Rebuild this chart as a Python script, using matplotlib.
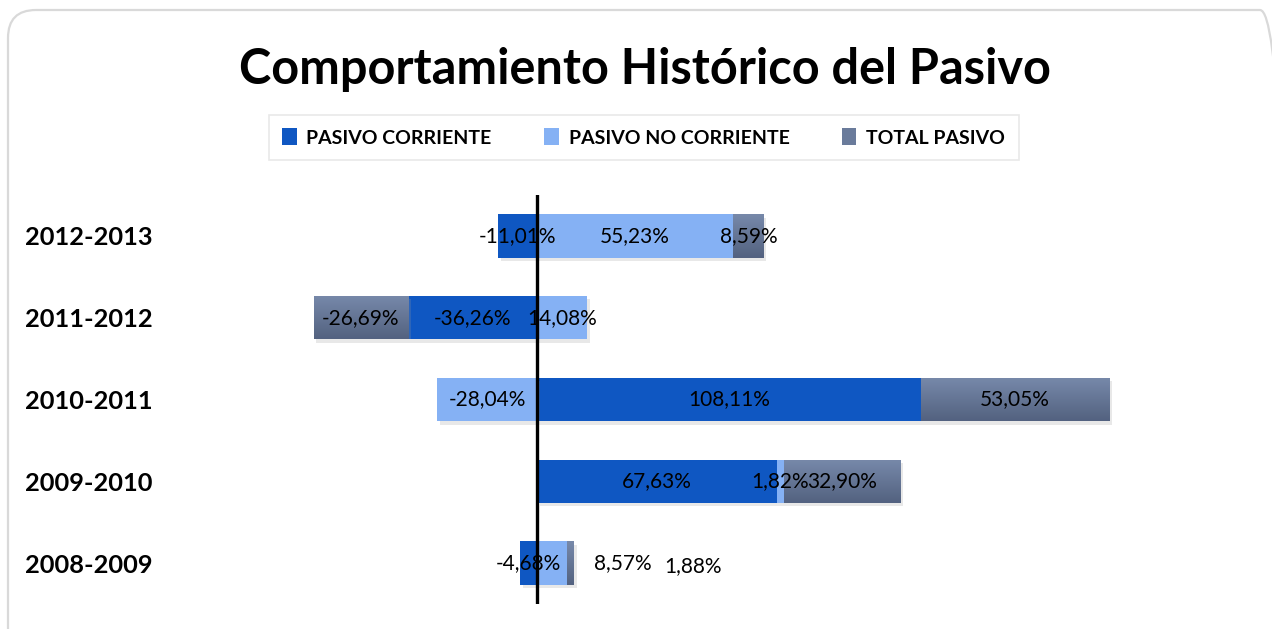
import numpy as np
import matplotlib
matplotlib.use("Agg")
import matplotlib.pyplot as plt
from matplotlib.patches import FancyBboxPatch, Patch
from matplotlib.colors import LinearSegmentedColormap
from matplotlib.transforms import IdentityTransform
import matplotlib.patheffects as pe

plt.rcParams['font.family'] = ['Lato', 'DejaVu Sans']

title = "Comportamiento Histórico del Pasivo"
periods = ["2008-2009", "2009-2010", "2010-2011", "2011-2012", "2012-2013"]
series_names = ["PASIVO CORRIENTE", "PASIVO NO CORRIENTE", "TOTAL PASIVO"]
pasivo_corriente = [-4.68, 67.63, 108.11, -36.26, -11.01]
pasivo_no_corriente = [8.57, 1.82, -28.04, 14.08, 55.23]
total_pasivo = [1.88, 32.90, 53.05, -26.69, 8.59]

colors = ["#0F57C2", "#85B1F4", "#6A7B9B"]
tp_top, tp_bottom = "#7789AA", "#536280"

# manually moved data labels (Excel): (series index, row index) -> (dx in %, dy in rows)
label_moves = {(1, 0): (20.0, 0.0), (2, 0): (34.4, -0.04)}

fig = plt.figure(figsize=(12.72, 6.29), dpi=100)
fig.patch.set_facecolor("white")

border = FancyBboxPatch((8, -40), 1280, 629 - 10 + 40, boxstyle="round,pad=0,rounding_size=28",
                        transform=IdentityTransform(), facecolor="none", edgecolor="#D9D9D9", lw=1.6)
fig.patches.append(border)

ax = fig.add_axes([182 / 1272, 1 - 604 / 629, (1247 - 182) / 1272, (604 - 195) / 629])
ax.set_facecolor("none")

data = [pasivo_corriente, pasivo_no_corriente, total_pasivo]
y = np.arange(len(periods))
pos_cum = np.zeros(len(periods))
neg_cum = np.zeros(len(periods))
bar_h = 0.53
shadow = [pe.SimplePatchShadow(offset=(2, -2.5), shadow_rgbFace="#9a9a9a", alpha=0.22), pe.Normal()]

for si, vals in enumerate(data):
    vals = np.array(vals, dtype=float)
    left = np.where(vals >= 0, pos_cum, neg_cum)
    bars = ax.barh(y, vals, left=left, height=bar_h, color=colors[si], zorder=2,
                   path_effects=shadow, linewidth=0)
    if si == 2:
        cmap = LinearSegmentedColormap.from_list("tp", [tp_top, tp_bottom])
        grad = np.linspace(0, 1, 64).reshape(-1, 1)
        for b in bars:
            x0, w = b.get_x(), b.get_width()
            yb, hb = b.get_y(), b.get_height()
            im = ax.imshow(grad, extent=[min(x0, x0 + w), max(x0, x0 + w), yb, yb + hb],
                           origin="upper", cmap=cmap, aspect="auto", zorder=2.5)
            im.set_clip_path(b)
    for i, v in enumerate(vals):
        cx = left[i] + v / 2
        cy = y[i]
        dx, dy = label_moves.get((si, i), (0.0, 0.0))
        ax.text(cx + dx, cy + dy, f"{v:.2f}%".replace(".", ","), ha="center", va="center",
                fontsize=15, color="black", zorder=5)
    pos_cum = pos_cum + np.where(vals >= 0, vals, 0)
    neg_cum = neg_cum + np.where(vals < 0, vals, 0)

ax.axvline(0, color="black", lw=2.4, zorder=4)
ax.set_xlim(-100, 200)
ax.set_ylim(-0.5, len(periods) - 0.5)
ax.set_yticks(y)
ax.set_yticklabels(periods, fontsize=18.3, fontweight="bold")
ax.tick_params(axis="y", length=0, pad=21)
ax.set_xticks([])
for s in ax.spines.values():
    s.set_visible(False)

fig.text(0.507, 1 - 70 / 629, title, ha="center", va="center", fontsize=35, fontweight="bold")

handles = [Patch(facecolor=colors[0]), Patch(facecolor=colors[1]), Patch(facecolor=colors[2])]
leg = fig.legend(handles, series_names, loc="center", bbox_to_anchor=(0.506, 1 - 137.5 / 629),
                 ncol=3, frameon=True, fancybox=False, edgecolor="#E3E3E3",
                 prop={"size": 14, "weight": "bold"}, handlelength=0.75, handleheight=0.95,
                 handletextpad=0.5, columnspacing=2.7, borderpad=0.7)
leg.get_frame().set_linewidth(1.2)

fig.savefig("out.png", dpi=100, facecolor="white")
